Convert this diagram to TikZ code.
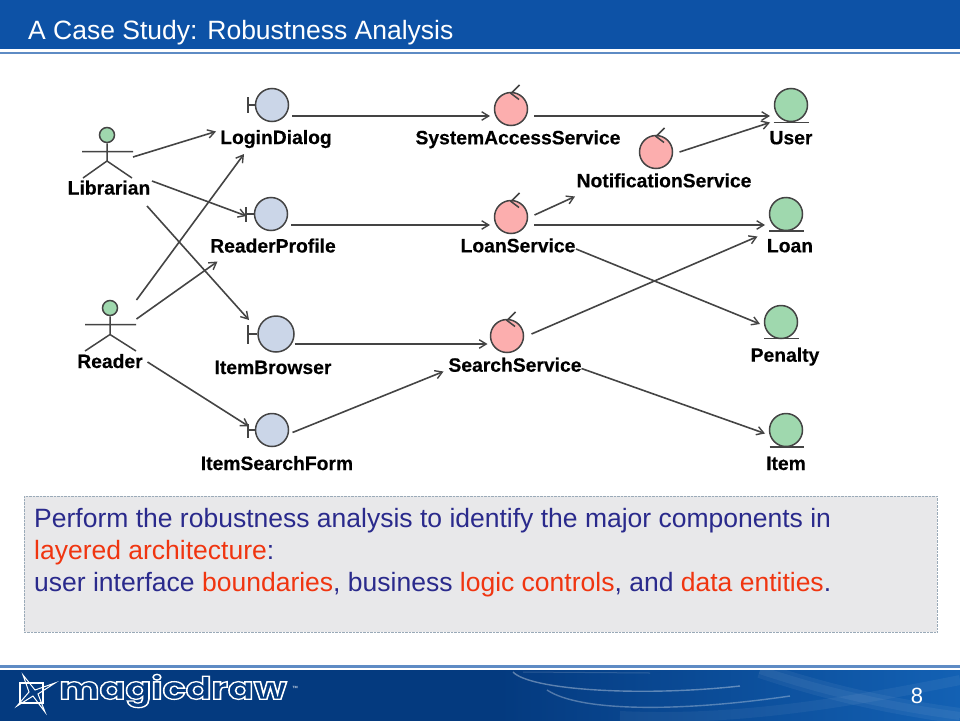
\documentclass[tikz,border=0pt]{standalone}
\usepackage{xcolor}
\usepackage{fontspec}
\usetikzlibrary{arrows.meta}
\setmainfont{Liberation Sans}
\newfontfamily\logofont{Poppins}
\newfontfamily\elemfont[FakeBold=0.4]{Liberation Sans Bold}
\definecolor{TitleBlue}{HTML}{0D52A6}
\definecolor{FootBlue}{HTML}{043A7F}
\definecolor{FootLight}{HTML}{1361B4}
\definecolor{RuleBlue}{HTML}{5E8BC4}
\definecolor{BoxGrey}{HTML}{E8E8EA}
\definecolor{BoxEdge}{HTML}{9AAAB8}
\definecolor{InkBlue}{HTML}{2A2A8C}
\definecolor{InkRed}{HTML}{F03510}
\definecolor{LineGrey}{HTML}{444444}
\definecolor{BoundaryFill}{HTML}{CBD6E8}
\definecolor{ControlFill}{HTML}{FCAEAE}
\definecolor{EntityFill}{HTML}{9FD8AE}
\tikzset{
  icon/.style={circle,draw=LineGrey,line width=1.5pt,inner sep=0pt,minimum size=#1},
  boundary/.style={icon=33pt,fill=BoundaryFill},
  control/.style={icon=33pt,fill=ControlFill},
  entity/.style={icon=33pt,fill=EntityFill},
  head/.style={icon=15pt,fill=EntityFill},
  elemlabel/.style={anchor=base,font=\elemfont\fontsize{19.3}{20}\selectfont,text=black,inner sep=0pt},
  glyphline/.style={draw=LineGrey,line width=1.5pt},
  link/.style={draw=LineGrey,line width=1.6pt,-{Straight Barb[length=7pt,width=8.5pt,line width=1.4pt]}}
}
\begin{document}
\begin{tikzpicture}[x=1pt,y=-1pt]
\path[use as bounding box] (0,0) rectangle (960,720);
% title band
\fill[TitleBlue] (0,0) rectangle (960,49);
\fill[RuleBlue] (0,52) rectangle (960,54);
\node[anchor=west,text=white,font=\fontsize{26.5}{28}\selectfont,inner sep=0pt] (title) at (28,33) {A Case Study: Robustness Analysis};
% footer band
\fill[RuleBlue] (0,665) rectangle (960,668);
\fill[FootBlue] (0,670) rectangle (960,722);
\shade[left color=FootBlue,right color=FootLight] (500,670) rectangle (960,722);
\begin{scope}
\clip (0,670) rectangle (960,722);
\draw[white,opacity=.35,line width=1.4pt] (513,672) .. controls (530,690) and (640,697) .. (740,686);
\draw[white,opacity=.3,line width=1.4pt] (547,690) .. controls (580,712) and (680,712) .. (790,696);
\draw[white,opacity=.15,line width=1pt] (523,672) -- (650,673);
\draw[white,opacity=.05,line width=16pt] (760,670) .. controls (820,690) and (880,705) .. (960,716);
\draw[white,opacity=.05,line width=8pt] (760,670) .. controls (820,690) and (880,705) .. (960,716);
\draw[white,opacity=.05,line width=10pt] (620,716) .. controls (740,722) and (860,700) .. (960,680);
\end{scope}
\node[text=white,font=\fontsize{22}{24}\selectfont,inner sep=0pt] (pagenum) at (917,696) {8};
% logo
\draw[white,line width=1.2pt] (20,683) rectangle (43,703);
\draw[white,line width=1pt] (23,675) -- (35,690) -- (55,683) -- (38,694) -- (45,712) -- (33,696) -- (17,706) -- (29,692) -- cycle;
\node[text=white,anchor=center,inner sep=0pt,xscale=1.23,font=\logofont\fontsize{31}{31}\selectfont\bfseries] (logo) at (173,691) {\special{pdf:code q 1 Tr 1.3 w 1 1 1 RG}magicdraw\special{pdf:code Q}};
\node[text=white,inner sep=0pt,font=\fontsize{6}{7}\selectfont] (tm) at (295,688) {™};
% text box
\draw[BoxEdge,fill=BoxGrey,densely dotted] (24,496) rectangle (937,632);
\node[anchor=north west,align=left,inner sep=0pt,text=InkBlue,font=\fontsize{26.5}{32}\selectfont] (note) at (34,508) {Perform the robustness analysis to identify the major components in\\
\textcolor{InkRed}{layered architecture}:\\
user interface \textcolor{InkRed}{boundaries}, business \textcolor{InkRed}{logic controls}, and \textcolor{InkRed}{data entities}.};
% actors
\node[head] (Librarian) at (107,135) {};
\node[elemlabel] (LibrarianLabel) at (109,194.5) {Librarian};
\draw[glyphline] (Librarian.south) -- (107,161) (82,151.5) -- (133,151.5) (83,178) -- (107,161) -- (132,178);
\node[head] (Reader) at (110,308) {};
\node[elemlabel] (ReaderLabel) at (110,368) {Reader};
\draw[glyphline] (Reader.south) -- (110,334.5) (85,324.5) -- (136,324.5) (85,351) -- (110,334.5) -- (136,351);
% boundaries
\node[boundary] (LoginDialog) at (272,105) {};
\node[elemlabel] (LoginDialogLabel) at (276,144) {LoginDialog};
\draw[glyphline] (LoginDialog.west) -- (248,105) (248,97) -- (248,113);
\node[boundary] (ReaderProfile) at (271,214) {};
\node[elemlabel] (ReaderProfileLabel) at (273,252.5) {ReaderProfile};
\draw[glyphline] (ReaderProfile.west) -- (246,214) (246,207) -- (246,222);
\node[boundary,minimum size=36pt] (ItemBrowser) at (276,334) {};
\node[elemlabel] (ItemBrowserLabel) at (273,374) {ItemBrowser};
\draw[glyphline] (ItemBrowser.west) -- (248,334) (248,325) -- (248,344);
\node[boundary] (ItemSearchForm) at (272,430) {};
\node[elemlabel] (ItemSearchFormLabel) at (277,470) {ItemSearchForm};
\draw[glyphline] (ItemSearchForm.west) -- (248,430) (248,424) -- (248,438);
% controls
\node[control] (SystemAccessService) at (511,109) {};
\node[elemlabel] (SystemAccessServiceLabel) at (518,144.3) {SystemAccessService};
\draw[glyphline] (519.5,85) -- (511,93.5) -- (519,99.5);
\node[control] (NotificationService) at (656,152) {};
\node[elemlabel] (NotificationServiceLabel) at (664,187.3) {NotificationService};
\draw[glyphline] (664.5,128) -- (656,136.5) -- (664,142.5);
\node[control] (LoanService) at (511,217) {};
\node[elemlabel] (LoanServiceLabel) at (518,252.3) {LoanService};
\draw[glyphline] (519.5,193) -- (511,201.5) -- (519,207.5);
\node[control] (SearchService) at (507,336) {};
\node[elemlabel] (SearchServiceLabel) at (515,371.7) {SearchService};
\draw[glyphline] (515.5,312) -- (507,320.5) -- (515,326.5);
% entities
\node[entity] (User) at (791,105) {};
\node[elemlabel] (UserLabel) at (791,144.3) {User};
\draw[glyphline] (773.5,122.5) -- (809,122.5);
\node[entity] (Loan) at (786,214) {};
\node[elemlabel] (LoanLabel) at (790,252.3) {Loan};
\draw[glyphline] (769,231) -- (804,231);
\node[entity] (Penalty) at (781,322) {};
\node[elemlabel] (PenaltyLabel) at (785,361.7) {Penalty};
\draw[glyphline] (764,338.5) -- (799,338.5);
\node[entity] (Item) at (786,430) {};
\node[elemlabel] (ItemLabel) at (786,470) {Item};
\draw[glyphline] (769.5,447) -- (804,447);
% connectors
\draw[link] ([shift={(26,22)}]Librarian.center) -- ([shift={(-56,26.5)}]LoginDialog.center);
\draw[link] ([shift={(45,46)}]Librarian.center) -- ([shift={(-24.5,2)}]ReaderProfile.center);
\draw[link] ([shift={(40,71)}]Librarian.center) -- ([shift={(-27,-14)}]ItemBrowser.center);
\draw[link] ([shift={(26.5,-8)}]Reader.center) -- ([shift={(-28,49)}]LoginDialog.center);
\draw[link] ([shift={(26.5,11)}]Reader.center) -- ([shift={(-53.5,47.5)}]ReaderProfile.center);
\draw[link] ([shift={(37.5,54)}]Reader.center) -- ([shift={(-23,-3.5)}]ItemSearchForm.center);
\draw[link] ([shift={(20,11)}]LoginDialog.center) -- ([shift={(-21,7)}]SystemAccessService.center);
\draw[link] ([shift={(20,11)}]ReaderProfile.center) -- ([shift={(-21,8)}]LoanService.center);
\draw[link] ([shift={(18.5,10)}]ItemBrowser.center) -- ([shift={(-19.5,8)}]SearchService.center);
\draw[link] ([shift={(20.5,2.5)}]ItemSearchForm.center) -- ([shift={(-63.5,35.5)}]SearchService.center);
\draw[link] ([shift={(23,7)}]SystemAccessService.center) -- ([shift={(-21,11)}]User.center);
\draw[link] ([shift={(23.5,0)}]NotificationService.center) -- ([shift={(-21,17.5)}]User.center);
\draw[link] ([shift={(23.5,-2)}]LoanService.center) -- ([shift={(-81,44.5)}]NotificationService.center);
\draw[link] ([shift={(23,8)}]LoanService.center) -- ([shift={(-21,11)}]Loan.center);
\draw[link] ([shift={(65,32)}]LoanService.center) -- ([shift={(-21,2)}]Penalty.center);
\draw[link] ([shift={(24.5,-2)}]SearchService.center) -- ([shift={(-28.5,22.5)}]Loan.center);
\draw[link] ([shift={(74.5,32.5)}]SearchService.center) -- ([shift={(-21,3.5)}]Item.center);
\end{tikzpicture}
\end{document}
